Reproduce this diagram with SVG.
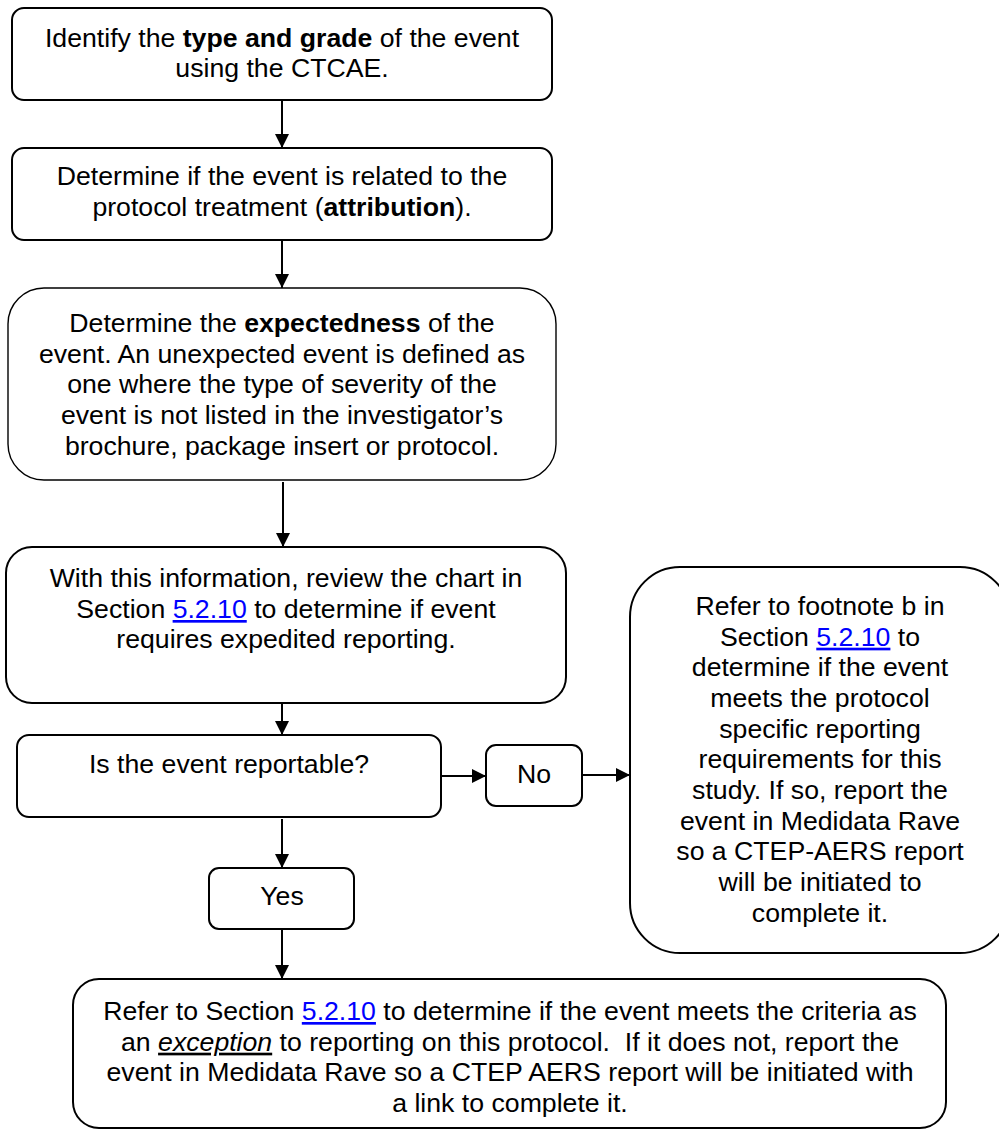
<svg xmlns="http://www.w3.org/2000/svg" width="999" height="1131" viewBox="0 0 999 1131">
  <style>
    .box { fill: #ffffff; stroke: #000000; stroke-width: 2; }
    .thin { stroke-width: 1.4; }
    .lbl { font-family: "Liberation Sans", Arial, sans-serif; font-size: 26.67px; fill: #000000; text-anchor: middle; }
    .b { font-weight: bold; }
    .link { fill: #0000ff; text-decoration: underline; }
    .em { font-style: italic; text-decoration: underline; }
    .edge { stroke: #000000; stroke-width: 2; fill: none; marker-end: url(#head); }
  </style>
  <defs>
    <marker id="head" markerUnits="userSpaceOnUse" markerWidth="14" markerHeight="16" viewBox="0 0 14 16" refX="14" refY="8" orient="auto">
      <path d="M0,1 L14,8 L0,15 Z" fill="#000000"/>
    </marker>
  </defs>

  <rect width="999" height="1131" fill="#ffffff"/>

  <g id="connectors">
    <line class="edge" x1="282" y1="100" x2="282" y2="148"/>
    <line class="edge" x1="282" y1="240" x2="282" y2="288"/>
    <line class="edge" x1="283" y1="482" x2="283" y2="547"/>
    <line class="edge" x1="282" y1="678" x2="282" y2="735"/>
    <line class="edge" x1="441" y1="776" x2="486" y2="776"/>
    <line class="edge" x1="582" y1="775" x2="630" y2="775"/>
    <line class="edge" x1="282" y1="819" x2="282" y2="868"/>
    <line class="edge" x1="282" y1="929" x2="282" y2="979"/>
  </g>

  <g id="identify">
    <rect class="box" x="12" y="8" width="540" height="92" rx="12"/>
    <text class="lbl" x="282" y="46.5">Identify the <tspan class="b">type and grade</tspan> of the event</text>
    <text class="lbl" x="282" y="77">using the CTCAE.</text>
  </g>

  <g id="attribution">
    <rect class="box" x="12" y="148" width="540" height="92" rx="12"/>
    <text class="lbl" x="282" y="185">Determine if the event is related to the</text>
    <text class="lbl" x="282" y="216">protocol treatment (<tspan class="b">attribution</tspan>).</text>
  </g>

  <g id="expectedness">
    <rect class="box thin" x="8" y="288" width="548" height="192" rx="36"/>
    <text class="lbl" x="282" y="332">Determine the <tspan class="b">expectedness</tspan> of the</text>
    <text class="lbl" x="282" y="362.7">event. An unexpected event is defined as</text>
    <text class="lbl" x="282" y="393.3">one where the type of severity of the</text>
    <text class="lbl" x="282" y="424">event is not listed in the investigator’s</text>
    <text class="lbl" x="282" y="454.7">brochure, package insert or protocol.</text>
  </g>

  <g id="review-chart">
    <rect class="box" x="6" y="547" width="560" height="156" rx="26"/>
    <text class="lbl" x="286" y="587">With this information, review the chart in</text>
    <text class="lbl" x="286" y="618">Section <tspan class="link">5.2.10</tspan> to determine if event</text>
    <text class="lbl" x="286" y="648">requires expedited reporting.</text>
  </g>

  <g id="reportable">
    <rect class="box" x="17" y="735" width="424" height="82" rx="12"/>
    <text class="lbl" x="229" y="773">Is the event reportable?</text>
  </g>

  <g id="no">
    <rect class="box" x="486" y="745" width="96" height="61" rx="10"/>
    <text class="lbl" x="534" y="783">No</text>
  </g>

  <g id="yes">
    <rect class="box" x="209" y="868" width="145" height="61" rx="10"/>
    <text class="lbl" x="282" y="905">Yes</text>
  </g>

  <g id="footnote-b">
    <rect class="box" x="630" y="567" width="380" height="386" rx="50"/>
    <text class="lbl" x="820" y="615">Refer to footnote b in</text>
    <text class="lbl" x="820" y="645.7">Section <tspan class="link">5.2.10</tspan> to</text>
    <text class="lbl" x="820" y="676.3">determine if the event</text>
    <text class="lbl" x="820" y="707">meets the protocol</text>
    <text class="lbl" x="820" y="737.7">specific reporting</text>
    <text class="lbl" x="820" y="768.3">requirements for this</text>
    <text class="lbl" x="820" y="799">study. If so, report the</text>
    <text class="lbl" x="820" y="829.7">event in Medidata Rave</text>
    <text class="lbl" x="820" y="860.3">so a CTEP-AERS report</text>
    <text class="lbl" x="820" y="891">will be initiated to</text>
    <text class="lbl" x="820" y="921.7">complete it.</text>
  </g>

  <g id="exception">
    <rect class="box" x="73" y="979" width="873" height="149" rx="26"/>
    <text class="lbl" x="510" y="1020">Refer to Section <tspan class="link">5.2.10</tspan> to determine if the event meets the criteria as</text>
    <text class="lbl" x="510" y="1050.7" xml:space="preserve">an <tspan class="em">exception</tspan> to reporting on this protocol.  If it does not, report the</text>
    <text class="lbl" x="510" y="1081.3">event in Medidata Rave so a CTEP AERS report will be initiated with</text>
    <text class="lbl" x="510" y="1112">a link to complete it.</text>
  </g>
</svg>
